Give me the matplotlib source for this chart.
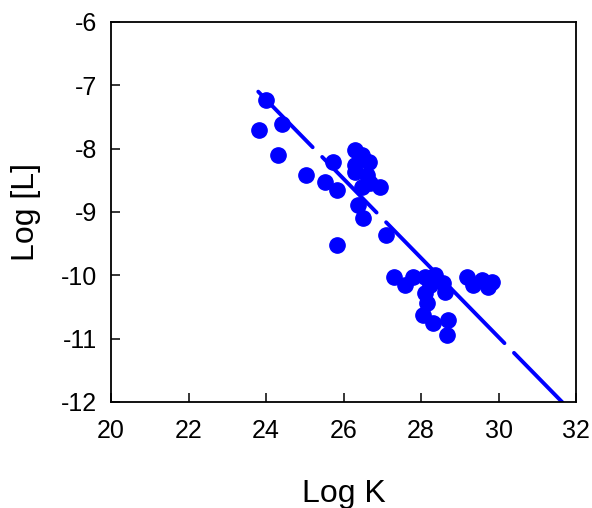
import matplotlib
matplotlib.use("Agg")
import matplotlib.pyplot as plt
import numpy as np

log_k = [23.82, 24.0, 24.41, 24.31, 25.03, 25.52, 25.73, 25.83, 25.83,
         26.30, 26.48, 26.66, 26.30, 26.30, 26.61, 26.68, 26.94, 26.48,
         26.37, 26.5, 27.1,
         27.3, 27.59, 27.8, 28.1, 28.36, 28.57, 28.62, 28.1, 28.15, 28.05,
         28.31, 28.7, 28.67, 28.23,
         29.19, 29.34, 29.57, 29.83, 29.73]
log_l = [-7.7, -7.23, -7.61, -8.1, -8.42, -8.53, -8.21, -8.65, -9.52,
         -8.02, -8.10, -8.21, -8.26, -8.37, -8.42, -8.54, -8.61, -8.61,
         -8.89, -9.1, -9.36,
         -10.03, -10.15, -10.03, -10.03, -10.0, -10.12, -10.26, -10.28, -10.44, -10.63,
         -10.75, -10.71, -10.94, -10.15,
         -10.03, -10.15, -10.07, -10.1, -10.18]

fit_slope = -0.625
fit_intercept = 7.775
fit_range = [23.8, 31.65]

x_ticks = [20, 22, 24, 26, 28, 30, 32]
y_ticks = [-12, -11, -10, -9, -8, -7, -6]

plt.rcParams['font.family'] = ['Liberation Sans', 'DejaVu Sans']
plt.rcParams['axes.unicode_minus'] = False

fig = plt.figure(figsize=(5.92, 5.08), dpi=100)
ax = fig.add_axes([0.1875, 0.2087, 0.7855, 0.748])

xf = np.array(fit_range)
ax.plot(xf, fit_intercept + fit_slope * xf, color='#0000ff', lw=2.8,
        dashes=(20, 3.5), solid_capstyle='round', dash_capstyle='round', zorder=2)
ax.plot(log_k, log_l, 'o', color='#0000ff', ms=11, mec='#0000ff', zorder=3)

ax.set_xlim(20, 32)
ax.set_ylim(-12, -6)
ax.set_xticks(x_ticks)
ax.set_yticks(y_ticks)
ax.tick_params(direction='in', length=6.5, width=1.1, labelsize=18, pad=10,
               top=False, right=False)
ax.tick_params(axis='x', pad=12)
for s in ax.spines.values():
    s.set_linewidth(1.3)

ax.set_xlabel('Log K', fontsize=23, labelpad=26)
ax.set_ylabel('Log [L]', fontsize=23, labelpad=14)

fig.savefig('out.png', dpi=100)
